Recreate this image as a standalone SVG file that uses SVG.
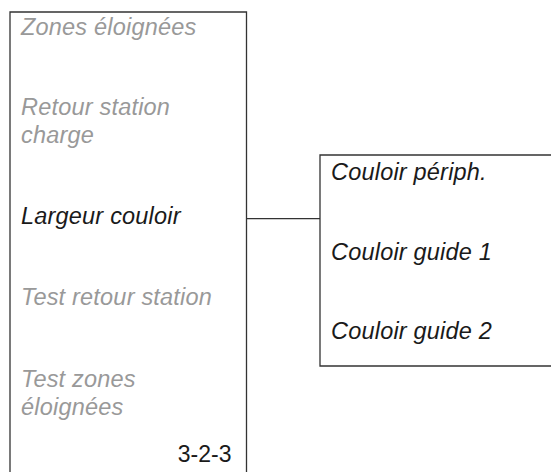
<svg xmlns="http://www.w3.org/2000/svg" width="551" height="472" viewBox="0 0 551 472">
<style>
.box{fill:#fff;stroke:#333;stroke-width:1.3}
.t{font-family:"Liberation Sans",sans-serif;font-size:23.5px;font-style:italic;letter-spacing:0.2px}
.g{fill:#999}
.k{fill:#1a1a1a}
.n{font-family:"Liberation Sans",sans-serif;font-size:23px;fill:#1a1a1a}
.c{stroke:#333;stroke-width:1.3;fill:none}
</style>
<rect width="551" height="472" fill="#fff"/>
<g id="connectors">
<line class="c" x1="246.5" y1="218.7" x2="320" y2="218.7"/>
</g>
<g id="menu">
<path class="box" d="M10,480 V12 H246.5 V480"/>
<text class="t g" x="21" y="35">Zones éloignées</text>
<text class="t g" x="21" y="115">Retour station</text>
<text class="t g" x="21" y="143">charge</text>
<text class="t k" x="21" y="224">Largeur couloir</text>
<text class="t g" x="21" y="305">Test retour station</text>
<text class="t g" x="21" y="387">Test zones</text>
<text class="t g" x="21" y="415">éloignées</text>
<text class="n" x="231.5" y="462" text-anchor="end">3-2-3</text>
</g>
<g id="submenu">
<path class="box" d="M560,155 H320 V366 H560"/>
<text class="t k" x="331" y="180">Couloir périph.</text>
<text class="t k" x="331" y="260">Couloir guide 1</text>
<text class="t k" x="331" y="339">Couloir guide 2</text>
</g>
</svg>
